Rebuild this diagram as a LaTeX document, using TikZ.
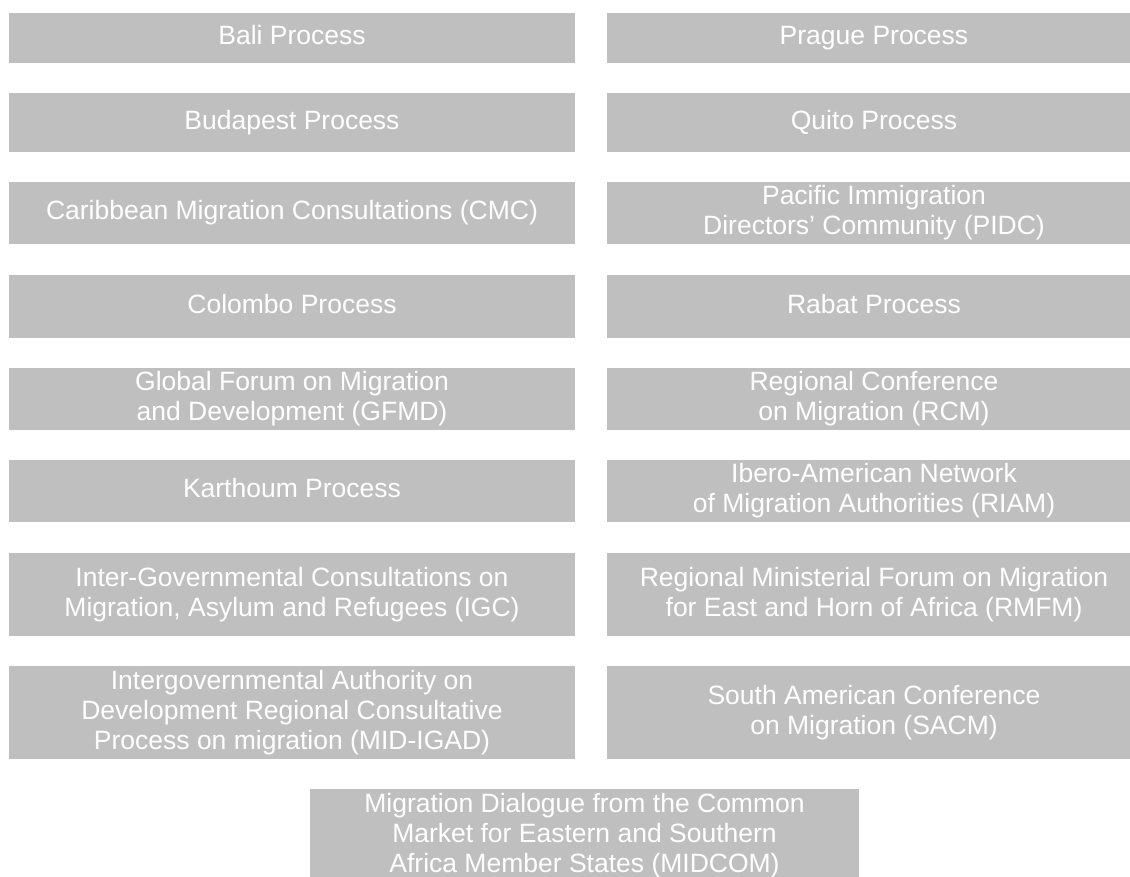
\documentclass[tikz,border=0pt]{standalone}
\usepackage{fontspec}
\setmainfont{Liberation Sans}
\definecolor{boxgray}{HTML}{BFBFBF}
\tikzset{
  pbox/.style={rectangle, fill=boxgray, draw=none, text=white, inner sep=0pt,
    align=center, font=\fontsize{26.5}{30}\selectfont},
  lcol/.style={pbox, minimum width=566pt},
  rcol/.style={pbox, minimum width=534pt},
  oneline/.style={text height=19pt, text depth=6pt},
}
\begin{document}
\begin{tikzpicture}[x=1pt,y=-1pt]
\useasboundingbox (0,0) rectangle (1130,876);
\fill[white] (0,0) rectangle (1130,876);
\clip (0,0) rectangle (1130,876);
% left column
\node[lcol, oneline, minimum height=50pt] (bali) at (292,38) {Bali Process};
\node[lcol, oneline, minimum height=59pt] (budapest) at (292,122.5) {Budapest Process};
\node[lcol, oneline, minimum height=62pt] (cmc) at (292,213) {Caribbean Migration Consultations (CMC)};
\node[lcol, oneline, minimum height=63pt] (colombo) at (292,306.5) {Colombo Process};
\node[lcol, minimum height=62pt] (gfmd) at (292,399) {Global Forum on Migration\\and Development (GFMD)};
\node[lcol, oneline, minimum height=62pt] (karthoum) at (292,491) {Karthoum Process};
\node[lcol, minimum height=83pt] (igc) at (292,594.5) {Inter-Governmental Consultations on\\Migration, Asylum and Refugees (IGC)};
\node[lcol, minimum height=93pt] (igad) at (292,712.5) {Intergovernmental Authority on\\Development Regional Consultative\\Process on migration (MID-IGAD)};
% right column
\node[rcol, oneline, minimum height=50pt] (prague) at (874,38) {Prague Process};
\node[rcol, oneline, minimum height=59pt] (quito) at (874,122.5) {Quito Process};
\node[rcol, minimum height=62pt] (pidc) at (874,213) {Pacific Immigration\\Directors’ Community (PIDC)};
\node[rcol, oneline, minimum height=63pt] (rabat) at (874,306.5) {Rabat Process};
\node[rcol, minimum height=62pt] (rcm) at (874,399) {Regional Conference\\on Migration (RCM)};
\node[rcol, minimum height=62pt] (riam) at (874,491) {Ibero-American Network\\of Migration Authorities (RIAM)};
\node[rcol, minimum height=83pt] (rmfm) at (874,594.5) {Regional Ministerial Forum on Migration\\for East and Horn of Africa (RMFM)};
\node[rcol, minimum height=93pt] (sacm) at (874,712.5) {South American Conference\\on Migration (SACM)};
% bottom
\node[pbox, minimum width=549pt, minimum height=93pt] (midcom) at (584.5,835.5) {Migration Dialogue from the Common\\Market for Eastern and Southern\\Africa Member States (MIDCOM)};
\end{tikzpicture}
\end{document}
